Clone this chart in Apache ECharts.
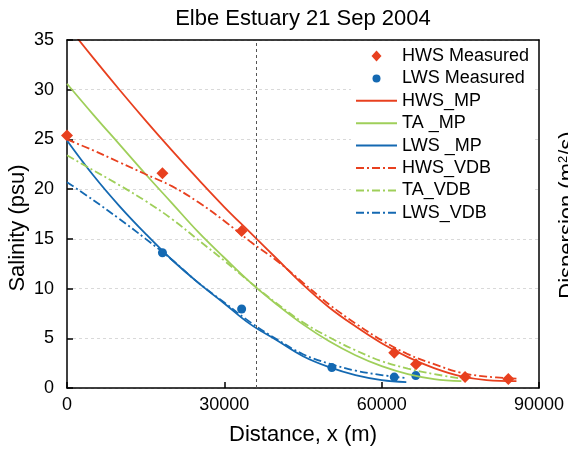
<!DOCTYPE html>
<html>
<head>
<meta charset="utf-8">
<script src="https://cdn.jsdelivr.net/npm/echarts@6/dist/echarts.min.js"></script>
<style>html,body{margin:0;padding:0;background:#fff;}#c{width:568px;height:453px;}</style>
</head>
<body>
<div id="c"></div>
<script>
// ---- data ----
const titleText = 'Elbe Estuary 21 Sep 2004';
const xName = 'Distance, x (m)';
const yName = 'Salinity (psu)';
const xTicks = [0, 30000, 60000, 90000];
const yTicks = [0, 5, 10, 15, 20, 25, 30, 35];
const refLineX = [36100];

const hwsMeasX = [0, 18200, 33300, 62400, 66550, 75900, 84150];
const hwsMeasY = [25.4, 21.6, 15.8, 3.55, 2.4, 1.1, 0.9];
const lwsMeasX = [18200, 33300, 50500, 62400, 66500];
const lwsMeasY = [13.6, 7.95, 2.05, 1.1, 1.25];

const hwsX = [0, 5000, 10000, 15000, 20000, 25000, 30000, 35000, 40000, 45000, 50000, 55000, 60000, 65000, 70000, 75000, 80000, 85700];
const hwsMP  = [36.5, 33.2, 30.0, 26.9, 23.9, 21.0, 18.2, 15.6, 13.0, 10.4, 8.1, 6.2, 4.5, 3.1, 2.0, 1.2, 0.8, 0.7];
const hwsVDB = [25.0, 23.9, 22.7, 21.5, 20.3, 18.7, 16.8, 14.7, 12.8, 10.6, 8.4, 6.5, 4.8, 3.4, 2.4, 1.55, 1.15, 0.95];

const taX = [0, 5000, 10000, 15000, 20000, 25000, 30000, 35000, 40000, 45000, 50000, 55000, 60000, 65000, 70000, 75200];
const taMP  = [30.6, 27.5, 24.5, 21.5, 18.6, 15.7, 13.1, 10.6, 8.4, 6.4, 4.7, 3.3, 2.2, 1.4, 0.9, 0.7];
const taVDB = [23.4, 21.9, 20.4, 18.8, 17.0, 14.9, 12.8, 10.6, 8.5, 6.6, 5.1, 3.8, 2.7, 1.95, 1.4, 0.95];

const lwsX = [0, 5000, 10000, 15000, 20000, 25000, 30000, 35000, 40000, 45000, 50000, 55000, 60000, 64700];
const lwsMP  = [24.9, 21.4, 18.3, 15.5, 12.9, 10.6, 8.5, 6.4, 4.8, 3.2, 2.1, 1.3, 0.8, 0.6];
const lwsVDB = [20.7, 18.9, 17.0, 15.0, 12.9, 10.6, 8.6, 6.6, 4.9, 3.4, 2.45, 1.75, 1.3, 1.0];

const names = ['HWS Measured', 'LWS Measured', 'HWS_MP', 'TA _MP', 'LWS _MP', 'HWS_VDB', 'TA_VDB', 'LWS_VDB'];

// ---- styling ----
const RED = '#E8401F', GREEN = '#9FCF5A', BLUE = '#1469B2';
const FONT = '"Liberation Sans", Arial, sans-serif';
const DASHDOT = [8, 3, 2, 3];
const zip = (xs, ys) => xs.map((x, i) => [x, ys[i]]);
// legend icons padded to the full 41x11 icon box so they are not stretched
const ICON_DIAMOND = 'path://M0,5.5M41,5.5M20.5,0L25.5,5.5L20.5,11L15.5,5.5Z';
const ICON_CIRCLE = 'path://M0,5.5M41,5.5M20.5,0M20.5,11M16.5,5.5A4,4,0,1,0,24.5,5.5A4,4,0,1,0,16.5,5.5Z';

const lineSeries = (name, xs, ys, color, dashed) => ({
  name, type: 'line', data: zip(xs, ys), smooth: 0.4, symbol: 'none', showSymbol: false,
  lineStyle: { color, width: 1.8, type: dashed ? DASHDOT : 'solid' },
  itemStyle: { color }, z: 3
});

const chart = echarts.init(document.getElementById('c'), null, { renderer: 'canvas' });
const option = {
  animation: false,
  textStyle: { fontFamily: FONT },
  grid: { left: 67, right: 29, top: 40, bottom: 65 },
  xAxis: [{
    type: 'value', min: xTicks[0], max: xTicks[xTicks.length - 1], interval: xTicks[1] - xTicks[0],
    axisLine: { lineStyle: { color: '#000', width: 1.5 } },
    axisTick: { inside: true, length: 6, lineStyle: { color: '#000', width: 1.5 } },
    axisLabel: { color: '#000', fontSize: 18, margin: 8, fontFamily: FONT, formatter: v => String(v) },
    splitLine: { show: false }
  }, {
    type: 'value', position: 'top', min: xTicks[0], max: xTicks[xTicks.length - 1], z: 5,
    axisLine: { show: true, onZero: false, lineStyle: { color: '#000', width: 1.5 } },
    axisTick: { show: false }, axisLabel: { show: false }, splitLine: { show: false }
  }],
  yAxis: [{
    type: 'value', min: yTicks[0], max: yTicks[yTicks.length - 1], interval: yTicks[1] - yTicks[0],
    axisLine: { show: true, lineStyle: { color: '#000', width: 1.5 } },
    axisTick: { show: true, inside: true, length: 6, lineStyle: { color: '#000', width: 1.5 } },
    axisLabel: { color: '#000', fontSize: 18, margin: 13, fontFamily: FONT, formatter: v => String(v) },
    splitLine: { show: true, lineStyle: { color: '#d9d9d9', width: 1, type: [3, 3] } }
  }, {
    type: 'value', position: 'right', min: yTicks[0], max: yTicks[yTicks.length - 1], z: 5,
    axisLine: { show: true, onZero: false, lineStyle: { color: '#000', width: 1.5 } },
    axisTick: { show: false }, axisLabel: { show: false }, splitLine: { show: false }
  }],
  legend: {
    orient: 'vertical', left: 351, top: 45, itemWidth: 41, itemHeight: 11, itemGap: 4.4,
    padding: [2, 4, 2, 4], backgroundColor: '#fff', z: 6,
    textStyle: { fontSize: 18, color: '#000', fontFamily: FONT, lineHeight: 18 },
    data: names.map((n, i) => i === 0 ? { name: n, icon: ICON_DIAMOND }
      : i === 1 ? { name: n, icon: ICON_CIRCLE }
      : { name: n, itemStyle: { opacity: 0 } })
  },
  series: [
    { name: names[0], type: 'scatter', data: zip(hwsMeasX, hwsMeasY), symbol: 'diamond', symbolSize: 12,
      itemStyle: { color: RED, opacity: 1 }, z: 2,
      markLine: { silent: true, symbol: 'none', label: { show: false },
        lineStyle: { color: '#555', width: 1, type: [3, 3] },
        data: refLineX.map(v => ({ xAxis: v })) } },
    { name: names[1], type: 'scatter', data: zip(lwsMeasX, lwsMeasY), symbol: 'circle', symbolSize: 9,
      itemStyle: { color: BLUE, opacity: 1 }, z: 2 },
    lineSeries(names[2], hwsX, hwsMP, RED, false),
    lineSeries(names[3], taX, taMP, GREEN, false),
    lineSeries(names[4], lwsX, lwsMP, BLUE, false),
    lineSeries(names[5], hwsX, hwsVDB, RED, true),
    lineSeries(names[6], taX, taVDB, GREEN, true),
    lineSeries(names[7], lwsX, lwsVDB, BLUE, true)
  ],
  graphic: [
    { type: 'text', x: 303, y: 19, style: { text: titleText, font: '22px ' + FONT, fill: '#000', align: 'center', verticalAlign: 'middle' } },
    { type: 'text', x: 303, y: 435, style: { text: xName, font: '22px ' + FONT, fill: '#000', align: 'center', verticalAlign: 'middle' } },
    { type: 'text', x: 18, y: 228, rotation: Math.PI / 2, style: { text: yName, font: '22px ' + FONT, fill: '#000', align: 'center', verticalAlign: 'middle' } },
    { type: 'text', x: 557, y: 215, rotation: Math.PI / 2,
      style: { text: 'Dispersion (m{s|2}/s)', font: '22px ' + FONT, fill: '#000', align: 'center', verticalAlign: 'top',
        rich: { s: { fontSize: 13, verticalAlign: 'top', padding: [0, 0, 8, 0], fontFamily: FONT } } } }
  ]
};
chart.setOption(option);
</script>
</body>
</html>
